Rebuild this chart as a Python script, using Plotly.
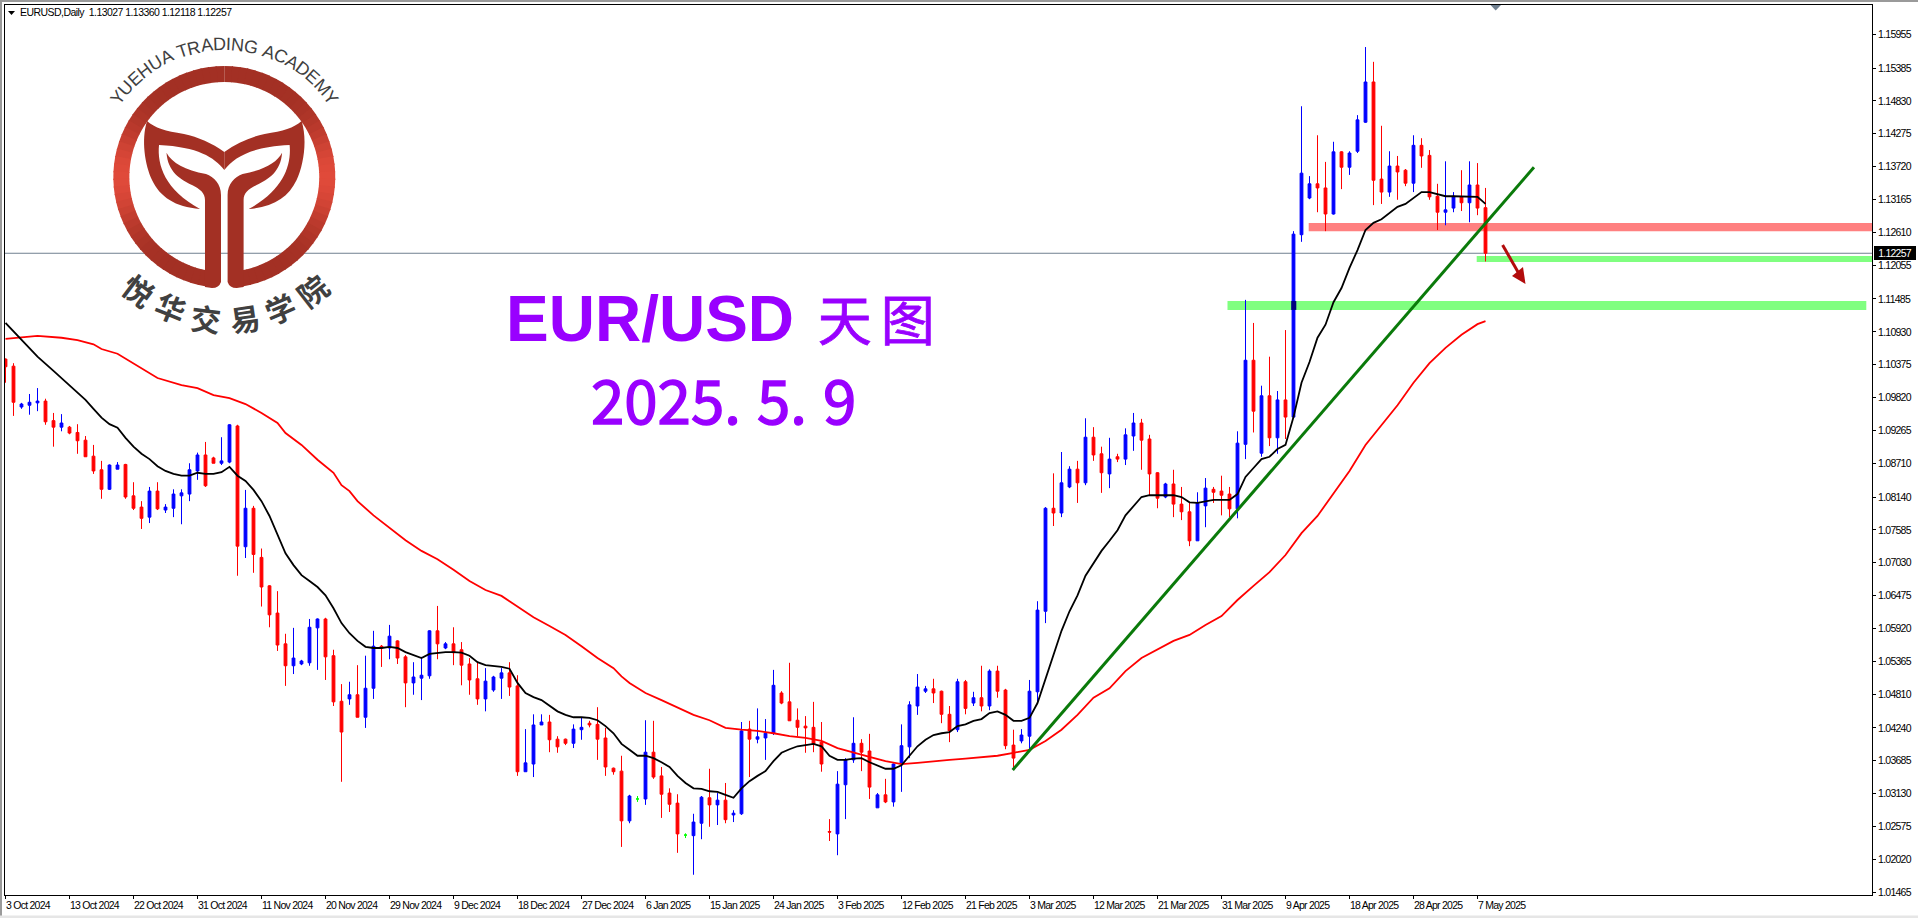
import re, math
import plotly.graph_objects as go

# ---------- values ----------
opens = [1.1047,1.1035,1.0966,1.0969,1.0973,1.0976,1.0943,1.0932,1.0932,1.0923,
1.0910,1.0883,1.0860,1.0827,1.0861,1.0869,1.0816,1.0797,1.0780,1.0824,
1.0792,1.0795,1.0816,1.0819,1.0858,1.0885,1.0880,1.0871,1.0873,1.0934,
1.0730,1.0795,1.0712,1.0664,1.0618,1.0566,1.0529,1.0532,1.0534,1.0593,
1.0608,1.0546,1.0469,1.0473,1.0480,1.0442,1.0491,1.0562,1.0559,1.0571,
1.0544,1.0500,1.0508,1.0512,1.0588,1.0559,1.0566,1.0556,1.0532,1.0507,
1.0473,1.0488,1.0508,1.0517,1.0495,1.0350,1.0363,1.0429,1.0434,1.0405,
1.0405,1.0398,1.0421,1.0432,1.0430,1.0407,1.0356,1.0351,1.0267,1.0304,
1.0304,1.0383,1.0343,1.0314,1.0297,1.0243,1.0242,1.0263,1.0306,1.0294,
1.0302,1.0277,1.0279,1.0422,1.0405,1.0407,1.0415,1.0483,1.0468,1.0437,
1.0427,1.0425,1.0400,1.0249,1.0245,1.0328,1.0370,1.0398,1.0385,1.0289,
1.0311,1.0299,1.0363,1.0392,1.0461,1.0486,1.0490,1.0486,1.0447,1.0421,
1.0502,1.0466,1.0475,1.0461,1.0520,1.0488,1.0395,1.0402,1.0410,1.0485,
1.0621,1.0795,1.0787,1.0831,1.0861,1.0838,1.0915,1.0887,1.0853,1.0882,
1.0878,1.0917,1.0939,1.0912,1.0855,1.0814,1.0836,1.0802,1.0789,1.0740,
1.0799,1.0827,1.0824,1.0819,1.0794,1.0903,1.1045,1.0888,1.0985,1.0914,
1.0978,1.0949,1.1257,1.1319,1.1343,1.1336,1.1292,1.1397,1.1371,1.1398,
1.1447,1.1515,1.1351,1.1329,1.1373,1.1366,1.1344,1.1408,1.1391,1.1322,
1.1295,1.1302,1.1321,1.1311,1.1341,1.13027]
highs = [1.1048,1.1040,1.0973,1.0988,1.0998,1.0980,1.0956,1.0954,1.0934,1.0937,
1.0917,1.0902,1.0875,1.0869,1.0873,1.0870,1.0839,1.0807,1.0831,1.0839,
1.0802,1.0827,1.0827,1.0871,1.0889,1.0907,1.0882,1.0915,1.0937,1.0936,
1.0826,1.0799,1.0727,1.0665,1.0655,1.0583,1.0593,1.0539,1.0608,1.0609,
1.0610,1.0556,1.0498,1.0502,1.0530,1.0546,1.0588,1.0564,1.0598,1.0572,
1.0547,1.0535,1.0544,1.0589,1.0630,1.0569,1.0594,1.0569,1.0542,1.0534,
1.0525,1.0512,1.0525,1.0535,1.0513,1.0422,1.0447,1.0447,1.0446,1.0410,
1.0406,1.0430,1.0442,1.0436,1.0459,1.0424,1.0357,1.0377,1.0311,1.0309,
1.0437,1.0436,1.0358,1.0322,1.0312,1.0246,1.0279,1.0309,1.0355,1.0314,
1.0331,1.0285,1.0434,1.0436,1.0457,1.0439,1.0522,1.0486,1.0534,1.0457,
1.0444,1.0468,1.0434,1.0270,1.0351,1.0373,1.0442,1.0405,1.0414,1.0314,
1.0338,1.0364,1.0430,1.0469,1.0515,1.0495,1.0507,1.0487,1.0461,1.0507,
1.0505,1.0485,1.0529,1.0523,1.0529,1.0490,1.0421,1.0422,1.0505,1.0638,
1.0797,1.0854,1.0890,1.0866,1.0875,1.0947,1.0932,1.0899,1.0914,1.0887,
1.0930,1.0956,1.0946,1.0919,1.0856,1.0838,1.0860,1.0831,1.0804,1.0822,
1.0846,1.0831,1.0850,1.0831,1.0925,1.1147,1.1108,1.1002,1.1051,1.0993,
1.1096,1.1263,1.1474,1.1356,1.1425,1.1380,1.1414,1.1398,1.1398,1.1459,
1.1574,1.1549,1.1441,1.1398,1.1390,1.1368,1.1425,1.1420,1.1400,1.1343,
1.1381,1.1329,1.1366,1.1381,1.1378,1.13360]
lows = [1.1007,1.0951,1.0963,1.0953,1.0959,1.0936,1.0899,1.0925,1.0920,1.0887,
1.0882,1.0853,1.0811,1.0826,1.0861,1.0811,1.0792,1.0760,1.0770,1.0792,
1.0787,1.0780,1.0768,1.0807,1.0843,1.0831,1.0871,1.0868,1.0871,1.0681,
1.0711,1.0686,1.0629,1.0594,1.0554,1.0495,1.0515,1.0530,1.0529,1.0522,
1.0505,1.0461,1.0333,1.0463,1.0442,1.0424,1.0473,1.0527,1.0540,1.0532,
1.0459,1.0480,1.0471,1.0507,1.0540,1.0557,1.0530,1.0496,1.0480,1.0463,
1.0452,1.0485,1.0473,1.0478,1.0343,1.0350,1.0341,1.0429,1.0383,1.0382,
1.0395,1.0390,1.0404,1.0425,1.0370,1.0343,1.0345,1.0223,1.0263,1.0299,
1.0294,1.0338,1.0272,1.0282,1.0213,1.0238,1.0176,1.0236,1.0257,1.0260,
1.0263,1.0265,1.0277,1.0341,1.0398,1.0370,1.0412,1.0464,1.0436,1.0410,
1.0382,1.0383,1.0350,1.0233,1.0209,1.0270,1.0365,1.0351,1.0304,1.0289,
1.0297,1.0291,1.0316,1.0373,1.0446,1.0483,1.0466,1.0432,1.0400,1.0417,
1.0447,1.0461,1.0452,1.0454,1.0475,1.0388,1.0356,1.0398,1.0387,1.0466,
1.0601,1.0765,1.0780,1.0829,1.0804,1.0834,1.0875,1.0821,1.0829,1.0873,
1.0868,1.0892,1.0860,1.0817,1.0795,1.0812,1.0780,1.0775,1.0731,1.0740,
1.0763,1.0804,1.0783,1.0780,1.0778,1.0878,1.0923,1.0882,1.0900,1.0887,
1.0912,1.0948,1.1245,1.1317,1.1295,1.1263,1.1291,1.1334,1.1358,1.1395,
1.1446,1.1307,1.1309,1.1321,1.1316,1.1339,1.1329,1.1370,1.1316,1.1265,
1.1273,1.1295,1.1297,1.1278,1.1290,1.12118]
closes = [1.1034,1.0974,1.0971,1.0974,1.0976,1.0941,1.0932,1.0939,1.0922,1.0909,
1.0882,1.0858,1.0827,1.0868,1.0868,1.0814,1.0795,1.0778,1.0824,1.0794,
1.0797,1.0819,1.0821,1.0860,1.0885,1.0833,1.0871,1.0875,1.0936,1.0731,
1.0795,1.0717,1.0662,1.0615,1.0564,1.0529,1.0542,1.0537,1.0594,1.0608,
1.0544,1.0468,1.0417,1.0480,1.0442,1.0491,1.0562,1.0559,1.0579,1.0542,
1.0500,1.0510,1.0513,1.0588,1.0566,1.0566,1.0551,1.0530,1.0505,1.0473,
1.0503,1.0510,1.0517,1.0493,1.0350,1.0365,1.0429,1.0434,1.0404,1.0392,
1.0398,1.0422,1.0425,1.0429,1.0405,1.0358,1.0350,1.0267,1.0309,1.0304,
1.0383,1.0341,1.0312,1.0295,1.0245,1.0243,1.0265,1.0307,1.0294,1.0302,
1.0269,1.0280,1.0419,1.0405,1.0409,1.0415,1.0496,1.0466,1.0436,1.0425,
1.0424,1.0397,1.0363,1.0248,1.0329,1.0370,1.0398,1.0383,1.0324,1.0311,
1.0299,1.0363,1.0394,1.0463,1.0493,1.0490,1.0483,1.0447,1.0419,1.0502,
1.0457,1.0475,1.0461,1.0520,1.0486,1.0394,1.0373,1.0412,1.0486,1.0623,
1.0795,1.0787,1.0838,1.0861,1.0838,1.0915,1.0885,1.0855,1.0878,1.0878,
1.0919,1.0939,1.0910,1.0853,1.0812,1.0836,1.0802,1.0789,1.0740,1.0804,
1.0829,1.0822,1.0817,1.0794,1.0905,1.1045,1.0959,1.0985,1.0914,1.0978,
1.0949,1.1258,1.1361,1.1343,1.1336,1.1292,1.1397,1.1371,1.1395,1.1451,
1.1515,1.1349,1.1329,1.1373,1.1363,1.1344,1.1408,1.1390,1.1321,1.1295,
1.1299,1.1322,1.1311,1.1341,1.1302,1.12257]
doji_bars = [79, 85]

black_bars = [0,2,4,6,8,10] + list(range(11, 186))
black_ma = [1.1108,1.1079,1.1051,1.1027,1.1003,1.0978,
1.0963,1.0948,1.0937,1.0931,1.0914,1.0899,1.0887,1.0878,1.0866,
1.0858,1.0853,1.0850,1.0850,1.0855,1.0853,1.0853,1.0856,1.0865,1.0850,
1.0841,1.0826,1.0807,1.0782,1.0750,1.0719,1.0699,1.0682,1.0672,1.0662,
1.0648,1.0626,1.0601,1.0584,1.0571,1.0561,1.0559,1.0559,1.0561,1.0559,
1.0552,1.0547,1.0542,1.0549,1.0551,1.0552,1.0552,1.0551,1.0546,1.0535,
1.0530,1.0529,1.0527,1.0524,1.0500,1.0483,1.0476,1.0471,1.0461,1.0452,
1.0446,1.0442,1.0442,1.0441,1.0437,1.0427,1.0415,1.0397,1.0387,1.0377,
1.0377,1.0373,1.0366,1.0358,1.0343,1.0331,1.0322,1.0321,1.0317,1.0316,
1.0311,1.0306,1.0322,1.0334,1.0343,1.0351,1.0368,1.0382,1.0388,1.0393,
1.0395,1.0397,1.0393,1.0377,1.0370,1.0370,1.0372,1.0373,1.0366,1.0360,
1.0355,1.0355,1.0361,1.0377,1.0393,1.0404,1.0412,1.0415,1.0417,1.0427,
1.0430,1.0436,1.0439,1.0449,1.0452,1.0446,1.0436,1.0436,1.0441,1.0466,
1.0508,1.0547,1.0588,1.0621,1.0648,1.0681,1.0702,1.0723,1.0740,1.0758,
1.0783,1.0799,1.0814,1.0817,1.0817,1.0817,1.0817,1.0814,1.0805,1.0804,
1.0807,1.0809,1.0809,1.0809,1.0819,1.0848,1.0863,1.0878,1.0882,1.0895,
1.0902,1.0949,1.1007,1.1042,1.1083,1.1105,1.1143,1.1167,1.1201,1.1231,
1.1265,1.1277,1.1283,1.1294,1.1304,1.1309,1.1319,1.1329,1.1329,1.1326,
1.1322,1.1322,1.1322,1.1321,1.1321,1.1309]

red_bars = [0,2,4,7,9,11,12,14,17,19,22,24,26,28,30,32,34,35,37,39,41,42,43,44,46,48,50,52,54,56,58,60,62,63,
66,68,70,72,74,76,77,78,79,80,82,84,86,88,90,92,94,96,98,100,102,104,106,108,110,112,114,116,118,120,122,124,
126,128,130,132,134,136,138,140,142,144,146,148,150,152,154,156,158,160,162,164,166,168,170,172,174,176,178,
180,182,184,185]
red_ma = [1.1081,1.1083,1.1086,1.1083,1.1079,1.1072,1.1064,1.1056,1.1032,1.1015,1.1003,1.0998,1.0986,1.0981,
1.0971,1.0956,1.0939,1.0922,1.0902,1.0877,1.0855,1.0834,1.0824,1.0807,1.0783,1.0762,1.0741,1.0723,1.0709,
1.0691,1.0672,1.0657,1.0647,1.0638,
1.0611,1.0596,1.0581,1.0562,1.0542,1.0525,1.0511,1.0500,1.0491,1.0483,1.0471,1.0459,1.0446,1.0437,1.0424,
1.0421,1.0419,1.0415,1.0410,1.0407,1.0402,1.0390,1.0382,1.0375,1.0368,1.0363,1.0365,1.0368,1.0370,1.0372,
1.0375,1.0377,
1.0382,1.0387,1.0402,1.0421,1.0446,1.0475,1.0491,1.0520,1.0542,1.0557,1.0571,1.0581,1.0598,1.0613,1.0640,
1.0664,1.0687,1.0716,1.0753,1.0782,1.0821,1.0858,1.0902,1.0936,1.0969,1.1007,1.1040,1.1066,1.1088,1.1106,
1.1111]

trend_bars = [125.9, 191.06]
trend_prices = [1.0353, 1.1371]

price_ticks = ["1.15955","1.15385","1.14830","1.14275","1.13720","1.13165","1.12610","1.12055","1.11485",
"1.10930","1.10375","1.09820","1.09265","1.08710","1.08140","1.07585","1.07030","1.06475","1.05920","1.05365",
"1.04810","1.04240","1.03685","1.03130","1.02575","1.02020","1.01465"]
date_labels = ["3 Oct 2024","13 Oct 2024","22 Oct 2024","31 Oct 2024","11 Nov 2024","20 Nov 2024","29 Nov 2024",
"9 Dec 2024","18 Dec 2024","27 Dec 2024","6 Jan 2025","15 Jan 2025","24 Jan 2025","3 Feb 2025","12 Feb 2025",
"21 Feb 2025","3 Mar 2025","12 Mar 2025","21 Mar 2025","31 Mar 2025","9 Apr 2025","18 Apr 2025","28 Apr 2025",
"7 May 2025"]
date_bars = [8 * k for k in range(len(date_labels))]
last_price = 1.12257

# ---------- page geometry ----------
W, H = 1918, 918
ML, MR, MT, MB = 5, 46, 5, 23
PW, PH = W - ML - MR, H - MT - MB
XR = [(ML - 5.5) / 8, (W - MR - 5.5) / 8]
YR = [1.01418, 1.16450]
UI = "Liberation Sans, Arial, sans-serif"
PURPLE = "#9900FF"
DARK = "#A33024"
LIGHT = "#E04A3A"

def tight(t, sp=-0.75):
    return f'<span style="letter-spacing:{sp}px;">{t}</span>'

def xp(x): return (x - ML) / PW
def yp(y): return (H - MB - y) / PH

def path(p, mirror=False):
    def sub(m):
        x, y = float(m.group(1)), float(m.group(2))
        if mirror:
            x = 448.6 - x
        return f"{xp(x):.5f},{yp(y):.5f}"
    return re.sub(r"(-?\d+\.?\d*),(-?\d+\.?\d*)", sub, p)

def blend(t):
    a, b = (0xA3, 0x30, 0x24), (0xE0, 0x4A, 0x3A)
    return "rgb(%d,%d,%d)" % tuple(round(a[k] + (b[k] - a[k]) * t) for k in range(3))

shapes, annotations = [], []

def poly(p, color, mirror=False):
    shapes.append(dict(type="path", xref="paper", yref="paper", path=path(p, mirror), layer="below",
                       fillcolor=color, line=dict(width=0)))

# window edges
shapes.append(dict(type="rect", xref="paper", yref="paper", x0=xp(0), x1=xp(2), y0=yp(H), y1=yp(0),
                   layer="below", fillcolor="#9a9a9a", line=dict(width=0)))
shapes.append(dict(type="rect", xref="paper", yref="paper", x0=xp(0), x1=xp(W), y0=yp(2), y1=yp(0),
                   layer="below", fillcolor="#9a9a9a", line=dict(width=0)))
shapes.append(dict(type="rect", xref="paper", yref="paper", x0=xp(0), x1=xp(W), y0=yp(H), y1=yp(915.5),
                   layer="below", fillcolor="#e6e6e6", line=dict(width=0)))

# last-price line
shapes.append(dict(type="line", xref="paper", yref="y", x0=0, x1=1, y0=last_price, y1=last_price,
                   layer="below", line=dict(color="#708090", width=1)))

# logo ring, in sectors for the side-to-side colour shift
CX, CY, RO, RI = 224.3, 177.0, 111.0, 95.0
N = 44
for side in (1, -1):
    for k in range(N):
        a0, a1 = math.radians(k * 174 / N), math.radians((k + 1.15) * 174 / N)
        a1 = min(a1, math.radians(174))
        s = (f"M{CX+side*RO*math.sin(a0):.2f},{CY-RO*math.cos(a0):.2f} "
             f"L{CX+side*RO*math.sin(a1):.2f},{CY-RO*math.cos(a1):.2f} "
             f"L{CX+side*RI*math.sin(a1):.2f},{CY-RI*math.cos(a1):.2f} "
             f"L{CX+side*RI*math.sin(a0):.2f},{CY-RI*math.cos(a0):.2f} Z")
        poly(s, blend(abs(math.sin((a0 + a1) / 2)) ** 8))
TAIL = ("M147,121 C155,128 165,131 184,134 C198,137 212,143 224.3,152 L224.3,170 C214,157 198,147 159,145 "
        "C157,165 165,190 200,209 C175,207 160,197 152,180 C145,165 141,140 147,121 Z")
LEAF = ("M166.5,152.7 C172,163 185,170 206,174 C214,177 221,184 221,195 L221,282 Q219,288 212,288 L205,287 "
        "L205,200 C205,193 200,189 192,185 C180,179 168,172 166.5,152.7 Z")
for m in (False, True):
    poly(TAIL, DARK, m)
    poly(LEAF, DARK, m)

# bands (values are price levels)
def band(x0, x1, y0, y1, color):
    shapes.append(dict(type="rect", xref="x", yref="y", x0=x0, x1=x1, y0=y0, y1=y1, layer="below",
                       fillcolor=color, line=dict(width=0)))
band(162.9, XR[1], 1.1263, 1.1277, "#FF8080")
band(183.9, XR[1], 1.1211, 1.1221, "#80FF80")
band(152.75, 232.6, 1.1130, 1.1145, "#80FF80")

# arrow
shapes.append(dict(type="line", xref="paper", yref="paper", x0=xp(1502.6), y0=yp(245), x1=xp(1518), y1=yp(272),
                   line=dict(color="#B20C0C", width=3)))
poly("M1525.5,284 L1512,276 L1523,267 Z", "#B20C0C")
shapes[-1]["layer"] = "above"
# overlap of the lower green band with the tall blue body
shapes.append(dict(type="rect", xref="x", yref="y", x0=160.72, x1=161.35, y0=1.1130, y1=1.1145,
                   layer="above", fillcolor="#00007F", line=dict(width=0)))
# small scroll marker at top
poly("M1490.5,5 L1501,5 L1495.7,10.5 Z", "#708090")
# small menu triangle
poly("M8,11 L15,11 L11.5,15 Z", "#000000")

def note(text, x, y, size, color="#000000", family=UI, anchor="left", angle=0, **kw):
    annotations.append(dict(text=text, x=xp(x), y=yp(y), xref="paper", yref="paper", showarrow=False,
                            xanchor=anchor, yanchor="middle", textangle=angle, borderpad=0,
                            font=dict(size=size, color=color, family=family), **kw))

note(tight("EURUSD,Daily&nbsp;&nbsp;1.13027 1.13360 1.12118 1.12257", -0.55), 19, 12.5, 10.5)

note('EUR/USD<span style="letter-spacing:6px;"> </span><span style="font-family:\'Noto Sans CJK SC\';font-weight:400;font-size:54px;letter-spacing:9px;stroke:#9900FF;stroke-width:0.8px;">天图</span>',
     505, 317.5, 64, PURPLE, "Liberation Sans, Arial, sans-serif")
annotations[-1]["font"]["weight"] = 700
HEAVY = "stroke:#9900FF;stroke-width:1.4px;"
DOT = f'<span style="letter-spacing:16px;{HEAVY}">.</span>'
note(f'<span style="{HEAVY}">2025</span>' + DOT + f'<span style="{HEAVY}">5</span>' + DOT + f'<span style="{HEAVY}">9</span>',
     590, 397, 60, PURPLE, "Noto Sans CJK SC", anchor="left")

# logo lettering around the ring
ARC_TEXT = "YUEHUA TRADING ACADEMY"
ARC_W = dict(zip("YUEHATRDINGCM ", [.667,.722,.667,.722,.667,.611,.722,.722,.278,.722,.778,.722,.833,.278]))
tot = sum(ARC_W[c] for c in ARC_TEXT)
pos = 0.0
SPAN = 112.0
for c in ARC_TEXT:
    mid = pos + ARC_W[c] / 2
    pos += ARC_W[c]
    if c == " ":
        continue
    ang = (mid / tot - 0.5) * SPAN
    a = math.radians(ang)
    note(c, CX + 133 * math.sin(a), CY - 133 * math.cos(a), 18, "#3f3f3f",
         "Liberation Sans, Arial, sans-serif", anchor="center", angle=ang)

for c, x, y, ang in zip("悦华交易学院", [139, 171, 206, 245, 280, 312], [290, 307, 318, 318, 308, 290],
                        [37, 22, 7, -8.5, -23, -38]):
    note(f"<b>{c}</b>", x, y, 30, "#404040", "Noto Sans CJK SC", anchor="center", angle=ang)

# date labels start at their tick
for b, t in zip(date_bars, date_labels):
    annotations.append(dict(text=tight(t), x=b, y=yp(904.5), xref="x", yref="paper", showarrow=False, xanchor="left",
                            yanchor="middle", xshift=-1, borderpad=0, font=dict(size=10.5, color="#000000", family=UI)))

# last price box
annotations.append(dict(text=tight("1.12257"), x=xp(1873.5), y=last_price, xref="paper", yref="y", showarrow=False,
                        xanchor="left", yanchor="middle", bgcolor="#000000", borderpad=1, borderwidth=0,
                        font=dict(size=10.5, color="#FFFFFF", family=UI), width=40, height=12, align="center"))

# ---------- traces ----------
idx = list(range(len(opens)))
main = [i for i in idx if i not in doji_bars]
pick = lambda arr, ids: [arr[i] for i in ids]

fig = go.Figure()
fig.add_trace(go.Candlestick(x=main, open=pick(opens, main), high=pick(highs, main), low=pick(lows, main),
    close=pick(closes, main), whiskerwidth=0,
    increasing=dict(line=dict(color="#0000FF", width=1), fillcolor="#0000FF"),
    decreasing=dict(line=dict(color="#FF0000", width=1), fillcolor="#FF0000"),
    showlegend=False, name="EURUSD"))
fig.add_trace(go.Candlestick(x=doji_bars, open=pick(opens, doji_bars), high=pick(highs, doji_bars),
    low=pick(lows, doji_bars), close=pick(closes, doji_bars), whiskerwidth=0,
    increasing=dict(line=dict(color="#00FF00", width=1), fillcolor="#00FF00"),
    decreasing=dict(line=dict(color="#00FF00", width=1), fillcolor="#00FF00"),
    showlegend=False, name="doji"))
fig.add_trace(go.Scatter(x=red_bars, y=red_ma, mode="lines", line=dict(color="#FF0000", width=1.8), showlegend=False))
fig.add_trace(go.Scatter(x=black_bars, y=black_ma, mode="lines", line=dict(color="#000000", width=1.8), showlegend=False))
fig.add_trace(go.Scatter(x=trend_bars, y=trend_prices, mode="lines", line=dict(color="#0A7A0A", width=3), showlegend=False))

fig.update_layout(
    width=W, height=H, autosize=False, margin=dict(l=ML, r=MR, t=MT, b=MB, pad=0),
    paper_bgcolor="#FFFFFF", plot_bgcolor="#FFFFFF", boxgap=0.5, boxmode="overlay",
    showlegend=False, shapes=shapes, annotations=annotations, hovermode=False,
    font=dict(family=UI, size=11, color="#000000"),
    xaxis=dict(range=XR, showgrid=False, zeroline=False, showline=True, mirror=True, linecolor="#000000", linewidth=1,
               ticks="outside", ticklen=3, tickwidth=1, tickcolor="#000000", tickvals=date_bars,
               showticklabels=False, rangeslider=dict(visible=False), fixedrange=True),
    yaxis=dict(range=YR, side="right", showgrid=False, zeroline=False, showline=True, mirror=True, linecolor="#000000",
               linewidth=1, ticks="outside", ticklen=3, tickwidth=1, tickcolor="#000000",
               tickvals=[float(t) for t in price_ticks], ticktext=[tight(t) for t in price_ticks],
               tickfont=dict(size=10.5, color="#000000", family=UI), fixedrange=True),
)
fig.write_html("out.html", config=dict(displayModeBar=False),
               post_script=("var s=document.documentElement.style;s.margin='0';s.height='918px';s.overflow='hidden';"
                            "var b=document.body.style;b.margin='0';b.height='918px';b.overflow='hidden';"
                            "Array.from(document.body.children).forEach(function(e){e.style.display='block';e.style.height='918px';e.style.overflow='hidden';});"))
